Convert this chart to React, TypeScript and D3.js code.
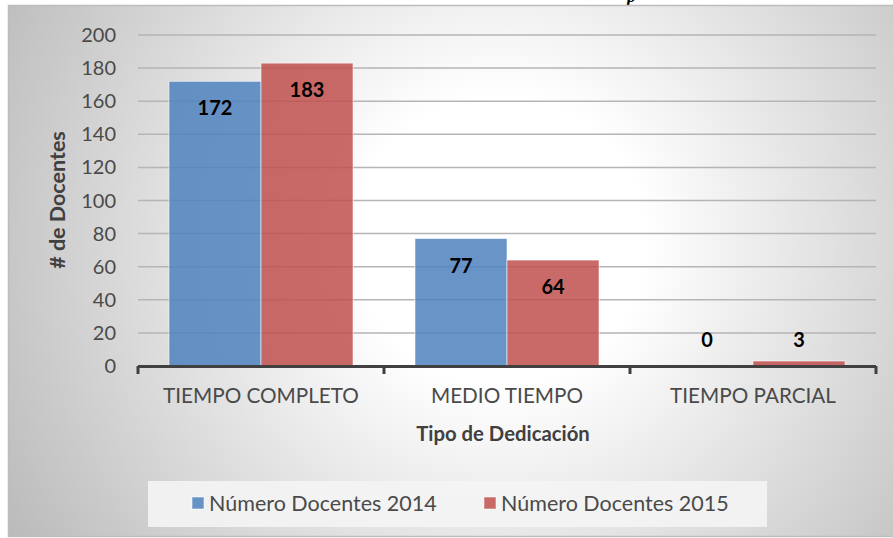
import React from "react";
import * as d3 from "d3";

const categories = ["TIEMPO COMPLETO", "MEDIO TIEMPO", "TIEMPO PARCIAL"];
const seriesNames = ["Número Docentes 2014", "Número Docentes 2015"];
const values2014 = [172, 77, 0];
const values2015 = [183, 64, 3];
const yTicks = [0, 20, 40, 60, 80, 100, 120, 140, 160, 180, 200];
const xTitle = "Tipo de Dedicación";
const yTitle = "# de Docentes";
const colors = ["#4F81BD", "#C0504D"];

const W = 893;
const H = 538;
const FONT = "Lato, 'Open Sans', sans-serif";

export default function App() {
  const plotL = 138, plotR = 876, plotT = 35, plotB = 366;
  const y = d3.scaleLinear().domain([0, 200]).range([plotB, plotT]);
  const x0 = d3.scaleBand<string>().domain(categories).range([plotL, plotR]).paddingInner(0).paddingOuter(0);
  const x1 = d3.scaleBand<string>().domain(seriesNames).range([0, x0.bandwidth()]).paddingInner(0).paddingOuter(0.337);
  const seriesValues = [values2014, values2015];

  return (
    <svg width={W} height={H} style={{ position: "absolute", left: 0, top: 0 }} fontFamily={FONT}>
      <defs>
        <radialGradient id="bg" gradientUnits="userSpaceOnUse" cx={500} cy={240} r={600}>
          <stop offset="0" stopColor="#ffffff" />
          <stop offset="0.24" stopColor="#ffffff" />
          <stop offset="1" stopColor="#b6b6b6" />
        </radialGradient>
      </defs>
      <rect x={0} y={0} width={W} height={H} fill="#ffffff" />
      <text x={627} y={2} fontFamily="'Liberation Serif', serif" fontWeight="bold" fontStyle="italic" fontSize={18} fill="#000">p</text>
      <rect x={8.5} y={5.5} width={W} height={531} fill="url(#bg)" stroke="#bdbdbd" strokeWidth={1.5} />

      {yTicks.map((t) => (
        <g key={t}>
          {t > 0 && <line x1={plotL} x2={plotR} y1={y(t)} y2={y(t)} stroke="#b5b5b5" strokeWidth={1.5} />}
          <text x={116} y={y(t)} dy="0.35em" textAnchor="end" fontSize={20} fill="#4a4a4a">{t}</text>
        </g>
      ))}

      {categories.map((c, ci) => (
        <g key={c} transform={`translate(${x0(c)},0)`}>
          {seriesNames.map((s, si) => {
            const v = seriesValues[si][ci];
            const top = y(v);
            return (
              <rect key={s} x={x1(s)!} y={top} width={x1.bandwidth()} height={plotB - top}
                fill={colors[si]} fillOpacity={0.85} stroke="#ffffff" strokeOpacity={0.55} strokeWidth={1} />
            );
          })}
        </g>
      ))}

      {categories.map((c, ci) => (
        <g key={c + "lbl"}>
          {seriesNames.map((s, si) => {
            const v = seriesValues[si][ci];
            const top = y(v);
            const cy = Math.min(top + 27, plotB - 26);
            return (
              <text key={s} x={x0(c)! + x1(s)! + x1.bandwidth() / 2} y={cy} dy="0.35em" textAnchor="middle"
                fontSize={20} fontWeight="bold" fill="#000">{v}</text>
            );
          })}
        </g>
      ))}

      <line x1={plotL} x2={plotR} y1={plotB + 0.5} y2={plotB + 0.5} stroke="#404040" strokeWidth={3} />
      {[...categories.map((c) => x0(c)!), plotR].map((tx, i) => (
        <line key={i} x1={tx} x2={tx} y1={plotB} y2={plotB + 8} stroke="#404040" strokeWidth={3} />
      ))}

      {categories.map((c) => (
        <text key={c + "x"} x={x0(c)! + x0.bandwidth() / 2} y={403} textAnchor="middle" fontSize={20.7} fill="#4a4a4a">{c}</text>
      ))}

      <text x={503} y={434} dy="0.35em" textAnchor="middle" fontSize={20.3} fontWeight="bold" fill="#404040">{xTitle}</text>
      <text transform={`translate(57,200) rotate(-90)`} dy="0.35em" textAnchor="middle" fontSize={21.5} fontWeight="bold" fill="#404040">{yTitle}</text>

      <rect x={148} y={481} width={619} height={46} fill="#f4f4f4" fillOpacity={0.9} />
      {seriesNames.map((s, si) => {
        const lx = [192, 484][si];
        return (
          <g key={s}>
            <rect x={lx} y={497} width={12} height={12} fill={colors[si]} fillOpacity={0.85} stroke="#ffffff" strokeOpacity={0.55} />
            <text x={lx + 17} y={503} dy="0.35em" fontSize={21.5} fill="#4a4a4a">{s}</text>
          </g>
        );
      })}
    </svg>
  );
}
